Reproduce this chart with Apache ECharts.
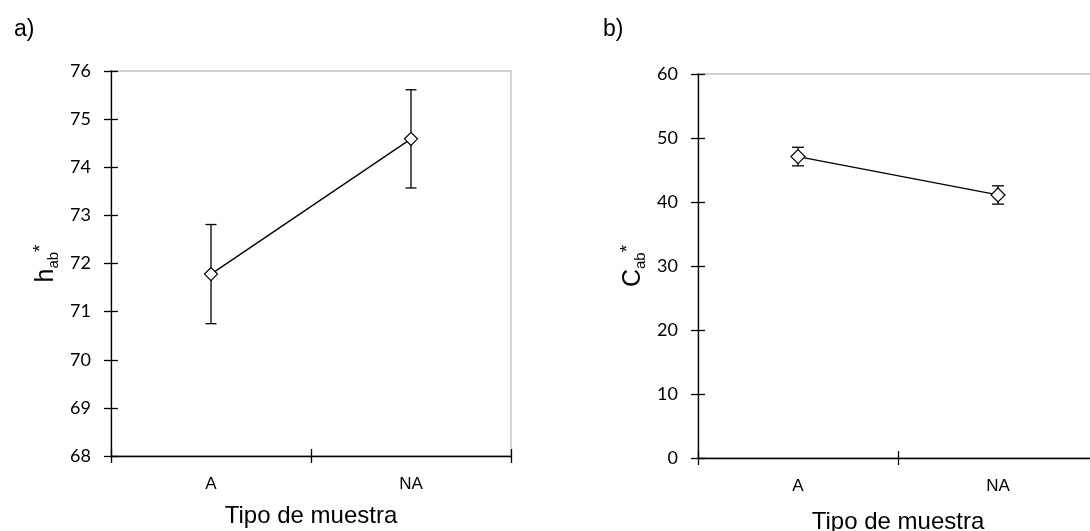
<!DOCTYPE html>
<html>
<head>
<meta charset="utf-8">
<script src="https://cdn.jsdelivr.net/npm/echarts@6/dist/echarts.min.js"></script>
<style>
  html, body { margin: 0; padding: 0; background: #fff; }
  #chart { width: 1090px; height: 531px; }
</style>
</head>
<body>
<div id="chart"></div>
<script>
// data
const categories = ['A', 'NA'];
const hueMean = [71.78, 74.59];
const hueErr = [1.03, 1.02];
const chromaMean = [47.1, 41.1];
const chromaErr = [1.45, 1.43];

const hueAxis = { min: 68, max: 76, interval: 1 };
const chromaAxis = { min: 0, max: 60, interval: 10 };

const ARIAL = '"Liberation Sans", Arial, sans-serif';
const TICKFONT = 'Lato, "Open Sans", sans-serif';

const myChart = echarts.init(document.getElementById('chart'));

function errorData(mean, err) {
  return mean.map((m, i) => [i, m - err[i], m + err[i]]);
}

function errorBar(capHalf) {
  return function (params, api) {
    const x = api.value(0);
    const lo = api.coord([x, api.value(1)]);
    const hi = api.coord([x, api.value(2)]);
    const style = { stroke: '#000', lineWidth: 1.3 };
    return {
      type: 'group',
      children: [
        { type: 'line', shape: { x1: lo[0], y1: lo[1], x2: hi[0], y2: hi[1] }, style: style },
        { type: 'line', shape: { x1: lo[0] - capHalf, y1: lo[1], x2: lo[0] + capHalf, y2: lo[1] }, style: style },
        { type: 'line', shape: { x1: hi[0] - capHalf, y1: hi[1], x2: hi[0] + capHalf, y2: hi[1] }, style: style }
      ]
    };
  };
}

function yName(main) {
  return '{m|' + main + '}{s|ab}{p|*}';
}

const nameRich = {
  m: { fontSize: 25, fontFamily: ARIAL, color: '#000', lineHeight: 30, verticalAlign: 'middle' },
  s: { fontSize: 15, fontFamily: ARIAL, color: '#000', lineHeight: 14, verticalAlign: 'bottom' },
  p: { fontSize: 19, fontFamily: ARIAL, color: '#000', lineHeight: 16, verticalAlign: 'top' }
};

function makeX(gridIndex, inside, gap) {
  return {
    type: 'category',
    gridIndex: gridIndex,
    data: categories,
    boundaryGap: true,
    position: 'bottom',
    axisLine: { show: !inside, lineStyle: { color: '#000', width: 1.3 } },
    axisTick: { show: true, inside: inside, length: 7, lineStyle: { color: '#000', width: 1.3 } },
    axisLabel: { show: !inside, margin: 20, fontSize: 17, fontFamily: ARIAL, color: '#000' },
    splitLine: { show: false },
    name: inside ? '' : 'Tipo de muestra',
    nameLocation: 'middle',
    nameGap: gap,
    nameTextStyle: { fontSize: 24, fontFamily: ARIAL, color: '#000' }
  };
}

function makeY(gridIndex, inside, range, label) {
  return {
    type: 'value',
    gridIndex: gridIndex,
    position: 'left',
    min: range.min,
    max: range.max,
    interval: range.interval,
    axisLine: { show: !inside, lineStyle: { color: '#000', width: 1.3 } },
    axisTick: { show: true, inside: inside, length: 7, lineStyle: { color: '#000', width: 1.3 } },
    axisLabel: { show: !inside, margin: 20, fontSize: 18, fontFamily: TICKFONT, color: '#000' },
    splitLine: { show: false },
    name: inside ? '' : yName(label),
    nameLocation: 'middle',
    nameRotate: 90,
    nameGap: 50,
    nameTextStyle: { rich: nameRich }
  };
}

const option = {
  backgroundColor: '#fff',
  animation: false,
  title: [
    { text: 'a)', left: 9, top: 13, textStyle: { fontSize: 23, fontWeight: 'normal', fontFamily: ARIAL, color: '#000' } },
    { text: 'b)', left: 598, top: 13, textStyle: { fontSize: 23, fontWeight: 'normal', fontFamily: ARIAL, color: '#000' } }
  ],
  grid: [
    { left: 111, top: 71, width: 400, height: 385, outerBoundsMode: 'none', show: true, borderColor: '#c0c0c0', borderWidth: 1.3, backgroundColor: 'transparent' },
    { left: 698, top: 74, width: 400, height: 384, outerBoundsMode: 'none', show: true, borderColor: '#c0c0c0', borderWidth: 1.3, backgroundColor: 'transparent' }
  ],
  xAxis: [
    makeX(0, false, 48),
    makeX(0, true, 48),
    makeX(1, false, 52),
    makeX(1, true, 52)
  ],
  yAxis: [
    makeY(0, false, hueAxis, 'h'),
    makeY(0, true, hueAxis, 'h'),
    makeY(1, false, chromaAxis, 'C'),
    makeY(1, true, chromaAxis, 'C')
  ],
  series: [
    {
      type: 'custom',
      xAxisIndex: 0,
      yAxisIndex: 0,
      z: 1,
      renderItem: errorBar(5.5),
      data: errorData(hueMean, hueErr)
    },
    {
      type: 'line',
      xAxisIndex: 0,
      yAxisIndex: 0,
      z: 3,
      data: hueMean,
      symbol: 'diamond',
      symbolSize: 13,
      showAllSymbol: true,
      lineStyle: { color: '#000', width: 1.3 },
      itemStyle: { color: '#fff', borderColor: '#000', borderWidth: 1.2 }
    },
    {
      type: 'custom',
      xAxisIndex: 2,
      yAxisIndex: 2,
      z: 1,
      renderItem: errorBar(6),
      data: errorData(chromaMean, chromaErr)
    },
    {
      type: 'line',
      xAxisIndex: 2,
      yAxisIndex: 2,
      z: 3,
      data: chromaMean,
      symbol: 'diamond',
      symbolSize: 14,
      showAllSymbol: true,
      lineStyle: { color: '#000', width: 1.3 },
      itemStyle: { color: '#fff', borderColor: '#000', borderWidth: 1.2 }
    }
  ]
};

myChart.setOption(option);
</script>
</body>
</html>
